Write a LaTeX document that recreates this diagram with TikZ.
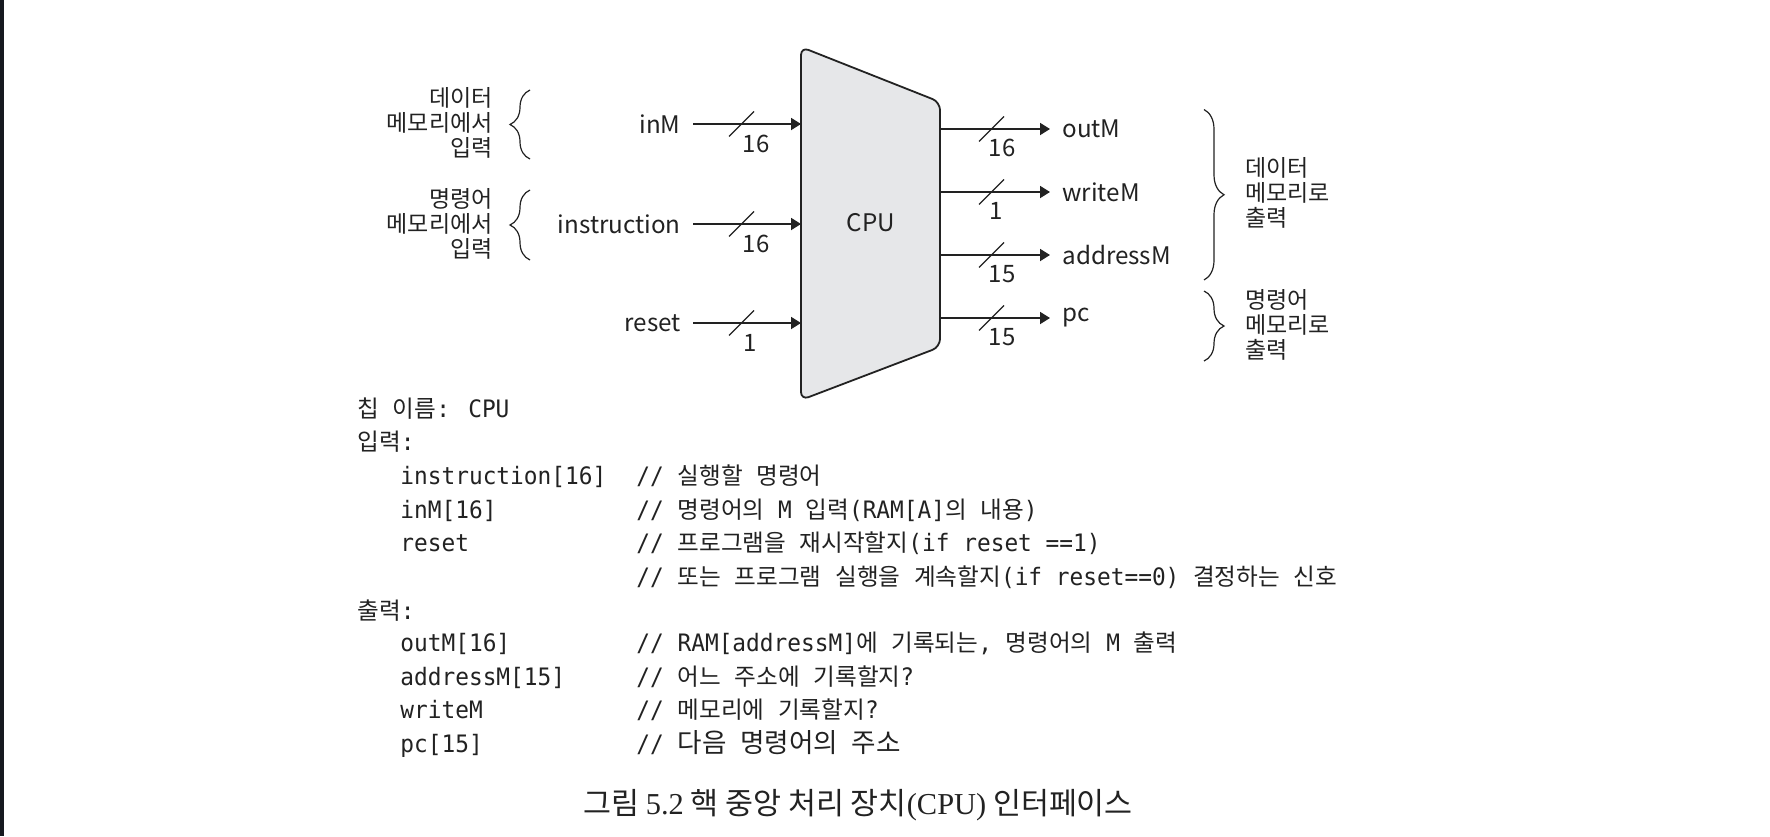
\documentclass[tikz,border=0pt]{standalone}
\usepackage{fontspec}
\setmainfont{Liberation Serif}
\newfontfamily\kor{Noto Sans CJK KR}
\newfontfamily\monof[FakeStretch=0.95]{DejaVu Sans Mono}
\usetikzlibrary{arrows.meta,decorations.pathreplacing}
\definecolor{ink}{HTML}{222222}
\definecolor{cpufill}{HTML}{E6E7E9}
\definecolor{barcol}{HTML}{16191F}
\newcommand{\hg}[1]{{\fontsize{11.8}{13}\selectfont\kor #1}}
\newcommand{\hgb}[1]{{\fontsize{13.3}{14}\selectfont\kor #1}}
\tikzset{
  lbl/.style={font=\fontsize{12.1}{14}\selectfont\kor, inner sep=0pt, text=ink},
  num/.style={font=\fontsize{12}{14}\selectfont\kor, inner sep=0pt, text=ink},
  grp/.style={font=\fontsize{11.5}{12.5}\selectfont\kor, inner sep=0pt, text=ink},
  code/.style={font=\fontsize{12}{14}\selectfont\monof, inner sep=0pt, anchor=base west, text=ink},
  sig/.style={draw=ink, line width=0.9pt, -{Triangle[length=5pt,width=6pt]}},
  slash/.style={draw=ink, line width=0.6pt},
  brc/.style={draw=ink, line width=0.6pt, decorate, decoration={brace, amplitude=10pt}},
  cpushape/.style={draw=ink, fill=cpufill, line width=0.9pt, rounded corners=4pt},
}
\begin{document}
\begin{tikzpicture}[x=0.5pt,y=-0.5pt]
\useasboundingbox (0,0) rectangle (1770,836);
\fill[white] (0,0) rectangle (1770,836);
\fill[barcol] (0,0) rectangle (4,836);

% CPU body
\draw[cpushape] (801,47) -- (940,102) -- (940,347) -- (801,400) -- cycle;
\node[lbl] (cpu) at (871,223) {CPU};

% edge points
\coordinate (in1) at (801,124);
\coordinate (in2) at (801,224);
\coordinate (in3) at (801,323);
\coordinate (out1) at (940,129);
\coordinate (out2) at (940,192);
\coordinate (out3) at (940,255);
\coordinate (out4) at (940,318);

% inputs
\node[lbl, anchor=east] (inM) at (681,124) {inM};
\node[lbl, anchor=east] (instr) at (681,224) {instruction};
\node[lbl, anchor=east] (reset) at (681,323) {reset};
\draw[sig] ([xshift=6pt]inM.east) -- (in1);
\draw[sig] ([xshift=6pt]instr.east) -- (in2);
\draw[sig] ([xshift=6pt]reset.east) -- (in3);
\draw[slash] (729,136.5) -- (754,111.5);
\draw[slash] (729,236.5) -- (754,211.5);
\draw[slash] (729,335.5) -- (754,310.5);
\node[num] (w1) at (756,144) {16};
\node[num] (w2) at (756,244) {16};
\node[num] (w3) at (750,343) {1};

% outputs
\node[lbl, anchor=west] (outM) at (1062,129) {outM};
\node[lbl, anchor=west] (writeM) at (1062,192) {writeM};
\node[lbl, anchor=west] (addressM) at (1062,255) {addressM};
\node[lbl, anchor=west] (pc) at (1062,318) {pc};
\draw[sig] (out1) -- ([xshift=-6pt]outM.west);
\draw[sig] (out2) -- ([xshift=-6pt]writeM.west);
\draw[sig] (out3) -- ([xshift=-6pt]addressM.west);
\draw[sig] (out4) -- ([xshift=-6pt]pc.west);
\draw[slash] (979,141.5) -- (1004,116.5);
\draw[slash] (979,204.5) -- (1004,179.5);
\draw[slash] (979,267.5) -- (1004,242.5);
\draw[slash] (979,330.5) -- (1004,305.5);
\node[num] (v1) at (1002,148) {16};
\node[num] (v2) at (996,211) {1};
\node[num] (v3) at (1002,274) {15};
\node[num] (v4) at (1002,337) {15};

% left groups
\node[grp, anchor=east, align=right] (g1) at (493,123) {데이터\\메모리에서\\입력};
\node[grp, anchor=east, align=right] (g2) at (493,223.5) {명령어\\메모리에서\\입력};
\draw[brc] (530,159) -- (530,90);
\draw[brc] (530,260) -- (530,190);

% right groups
\node[grp, anchor=west, align=left] (g3) at (1245,193) {데이터\\메모리로\\출력};
\node[grp, anchor=west, align=left] (g4) at (1245,325) {명령어\\메모리로\\출력};
\draw[brc] (1204,109.5) -- (1204,280);
\draw[brc] (1204,291) -- (1204,361);

% code listing
\node[code] (c1) at (357,417.5) {\hg{칩} \hg{이름}: CPU};
\node[code] (c2) at (357,450.5) {\hg{입력}:};
\node[code] (c3) at (400,484.5) {instruction[16]};
\node[code] (d3) at (636,484.5) {// \hg{실행할} \hg{명령어}};
\node[code] (c4) at (400,518.5) {inM[16]};
\node[code] (d4) at (636,518.5) {// \hg{명령어의} M \hg{입력}(RAM[A]\hg{의} \hg{내용})};
\node[code] (c5) at (400,551.5) {reset};
\node[code] (d5) at (636,551.5) {// \hg{프로그램을} \hg{재시작할지}(if reset ==1)};
\node[code] (d6) at (636,585.5) {// \hg{또는} \hg{프로그램} \hg{실행을} \hg{계속할지}(if reset==0) \hg{결정하는} \hg{신호}};
\node[code] (c7) at (357,619.5) {\hg{출력}:};
\node[code] (c8) at (400,651.5) {outM[16]};
\node[code] (d8) at (636,651.5) {// RAM[addressM]\hg{에} \hg{기록되는}, \hg{명령어의} M \hg{출력}};
\node[code] (c9) at (400,685.5) {addressM[15]};
\node[code] (d9) at (636,685.5) {// \hg{어느} \hg{주소에} \hg{기록할지}?};
\node[code] (c10) at (400,718.5) {writeM};
\node[code] (d10) at (636,718.5) {// \hg{메모리에} \hg{기록할지}?};
\node[code] (c11) at (400,752.5) {pc[15]};
\node[code] (d11) at (636,752.5) {// \hgb{다음} \hgb{명령어의} \hgb{주소}};

% caption
\node[inner sep=0pt, text=ink, font=\fontsize{15.2}{18}\selectfont\kor] (cap) at (858,805)
  {그림 {\rmfamily 5.2} 핵 중앙 처리 장치{\rmfamily (CPU)} 인터페이스};
\end{tikzpicture}
\end{document}
